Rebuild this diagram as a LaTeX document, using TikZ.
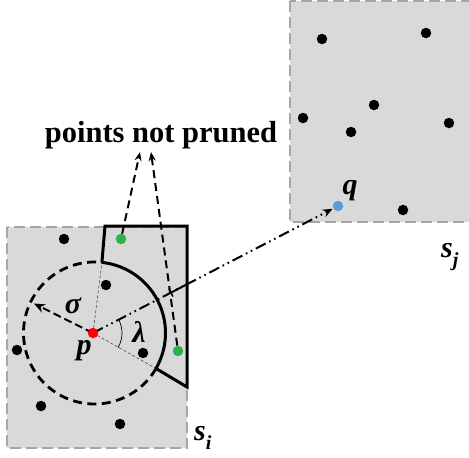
\documentclass[tikz,border=0pt]{standalone}
\usepackage{fontspec}
\setmainfont{Liberation Serif}
\usetikzlibrary{arrows.meta,calc}
\definecolor{boxgray}{HTML}{D9D9D9}
\definecolor{edgegray}{HTML}{A6A6A6}
\definecolor{ptgreen}{HTML}{2BB24C}
\definecolor{ptblue}{HTML}{5B9BD5}
\definecolor{ptred}{HTML}{FF0000}
\begin{document}
\begin{tikzpicture}[x=1pt,y=-1pt,
  region/.style={fill=boxgray,draw=edgegray,line width=2,dash pattern=on 11 off 5},
  dot/.style={circle,fill=black,inner sep=0pt,minimum size=10.5pt},
  gdot/.style={dot,fill=ptgreen},
  poly/.style={line width=3,line join=miter},
  circdash/.style={line width=2.8,dash pattern=on 9 off 5.5},
  guide/.style={line width=0.6,draw=black!70,dash pattern=on 3 off 2},
  dasharrow/.style={line width=2,dash pattern=on 8 off 5,-{Stealth[length=9pt,width=7pt]}},
  dashdotdot/.style={line width=2,dash pattern=on 11 off 4 on 1.6 off 4 on 1.6 off 4},
  lab/.style={font=\fontsize{30}{34}\selectfont\bfseries\itshape,inner sep=0pt,anchor=base},
  sublab/.style={font=\fontsize{30}{34}\selectfont\bfseries\itshape,inner sep=0pt,anchor=base west}
]
\useasboundingbox (0,0) rectangle (469,458);
\fill[white] (0,0) rectangle (469,458);
% regions
\draw[region] (7,227) rectangle (187,448);
\draw[region] (290,1) rectangle (480,222);
% key points
\coordinate (pc) at (94.5,333);
\coordinate (A) at ($(pc)+(-84:71)$);
\coordinate (E) at ($(pc)+(30:71)$);
\coordinate (B) at (105,226);
\coordinate (C) at (187,226);
\coordinate (D) at (187,387);
\coordinate (pp) at (93,333);
\coordinate (qq) at (338,206);
% thin guide lines
\draw[guide] (pp) -- (A);
\draw[guide] (pp) -- (E);
% circle
\draw[circdash] (E) arc[start angle=30,end angle=276,radius=71];
\draw[poly] (A) arc[start angle=-84,end angle=30,radius=71];
\draw[poly] (A) -- (B) -- (C) -- (D) -- (E);
% sigma arrow
\coordinate (sig) at ($(pp)+(206.5:66)$);
\draw[line width=2,dash pattern=on 8 off 4,-{Stealth[length=11pt,width=9pt]}] (pp) -- (sig);
% dash-dot line to q
\draw[dashdotdot,shorten >=6pt,-{Stealth[length=10pt,width=8pt]}] (pp) -- (qq);
\coordinate (T1) at ($(pp)!0.318!(qq)$);
\coordinate (T2) at ($(pp)!0.384!(qq)$);
\draw[line width=2] (T1) -- (T2);
\draw[line width=1.4] ($(T1)!4.5pt!90:(qq)$) -- ($(T1)!4.5pt!-90:(qq)$);
% lambda arc
\draw[line width=0.7] ($(pp)+(-27.4:29)$) arc[start angle=-27.4,end angle=30,radius=29];
% points
\node[dot,fill=ptred] (p) at (pp) {};
\node[dot,fill=ptblue] (q) at (qq) {};
\node[dot] (a1) at (64,239) {};
\node[dot] (a2) at (106,285) {};
\node[dot] (a3) at (17,350) {};
\node[dot] (a4) at (143,353) {};
\node[dot] (a5) at (41,406) {};
\node[dot] (a6) at (120,424) {};
\node[dot] (b1) at (322,39) {};
\node[dot] (b2) at (426,33) {};
\node[dot] (b3) at (374,105) {};
\node[dot] (b4) at (303,118) {};
\node[dot] (b5) at (351,132) {};
\node[dot] (b6) at (449,123) {};
\node[dot] (b7) at (403,210) {};
\node[gdot] (g1) at (121,239) {};
\node[gdot] (g2) at (178,351) {};
% label and arrows
\node[anchor=base,inner sep=0pt,font=\fontsize{30.5}{36}\selectfont\bfseries] (lbl) at (161,142) {points not pruned};
\coordinate (t1) at (140,152);
\coordinate (t2) at (151,152);
\draw[dasharrow] (g1) -- (t1);
\draw[dasharrow] (g2) -- (t2);
% labels
\node[lab] (sigl) at (73,313) {σ};
\node[lab] (pl) at (84,354) {p};
\node[lab] (laml) at (139,342) {λ};
\node[lab] (ql) at (350,194) {q};
\node[sublab] (sil) at (194,440) {s\raisebox{-0.3em}{\fontsize{20}{22}\selectfont i}};
\node[sublab] (sjl) at (441,257) {s\raisebox{-0.3em}{\fontsize{20}{22}\selectfont j}};
\end{tikzpicture}
\end{document}
